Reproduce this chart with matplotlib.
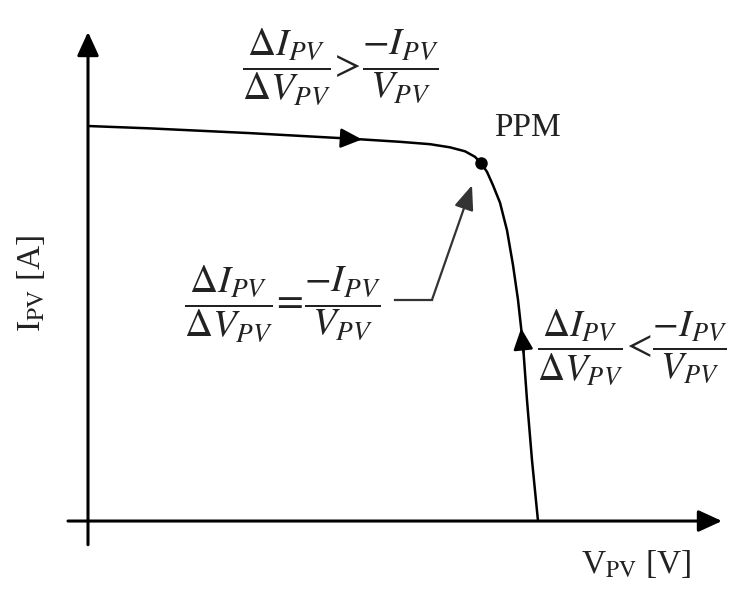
import numpy as np
import matplotlib.pyplot as plt

plt.rcParams['font.family'] = 'serif'
plt.rcParams['font.serif'] = ['Liberation Serif', 'DejaVu Serif']
plt.rcParams['mathtext.fontset'] = 'stix'

# PV module I-V characteristic (V in volts, I in amps)
v_pv = np.array([0.0, 3.1, 8.1, 13.1, 15.6, 17.1, 18.1, 18.85, 19.35, 19.65,
                 19.95, 20.25, 20.6, 20.95, 21.25, 21.5, 21.75, 21.95, 22.2, 22.5])
i_pv = np.array([5.0, 4.97, 4.91, 4.84, 4.80, 4.77, 4.73, 4.68, 4.61, 4.53,
                 4.42, 4.25, 4.03, 3.68, 3.24, 2.80, 2.23, 1.53, 0.77, 0.0])

# maximum power point
v_mpp = 19.65
i_mpp = 4.53

# where the direction arrows sit on the curve
arrow_right_v = 13.7
arrow_up_i = 2.44

fig = plt.figure(figsize=(7.33, 5.96), dpi=100)
ax = fig.add_axes([0, 0, 1, 1])
ax.set_xlim(-4.4, 32.25)
ax.set_ylim(-0.949, 6.595)
ax.axis('off')

# axes with arrow heads
axis_arrow = dict(arrowstyle='-|>,head_length=0.72,head_width=0.33', lw=2.2,
                  color='black', mutation_scale=20, shrinkA=0, shrinkB=0)
ax.annotate('', xy=(31.7, 0), xytext=(-1.0, 0), arrowprops=axis_arrow)
ax.annotate('', xy=(0, 6.19), xytext=(0, -0.30), arrowprops=axis_arrow)

# I-V curve
ax.plot(v_pv, i_pv, color='black', lw=1.8, solid_capstyle='butt')
ax.plot([v_mpp], [i_mpp], 'o', color='black', ms=8)

curve_arrow = dict(arrowstyle='-|>,head_length=0.65,head_width=0.3', lw=1.8,
                   color='black', mutation_scale=20, shrinkA=0, shrinkB=0)
# arrow moving right along the flat part
tip_i = np.interp(arrow_right_v, v_pv, i_pv)
tail_i = np.interp(arrow_right_v - 1.0, v_pv, i_pv)
ax.annotate('', xy=(arrow_right_v, tip_i), xytext=(arrow_right_v - 1.0, tail_i),
            arrowprops=curve_arrow)
# arrow moving up along the steep part
tip_v = np.interp(arrow_up_i, i_pv[::-1], v_pv[::-1])
tail_v = np.interp(arrow_up_i - 0.3, i_pv[::-1], v_pv[::-1])
ax.annotate('', xy=(tip_v, arrow_up_i), xytext=(tail_v, arrow_up_i - 0.3),
            arrowprops=curve_arrow)

# pointer from the equality condition to the MPP
ax.plot([15.35, 17.2], [2.80, 2.80], color='#333333', lw=1.6)
ax.annotate('', xy=(19.2, 4.25), xytext=(17.2, 2.80),
            arrowprops=dict(arrowstyle='-|>,head_length=0.75,head_width=0.3',
                            lw=1.6, color='#333333', mutation_scale=20,
                            shrinkA=0, shrinkB=0))

ax.text(v_mpp + 0.65, i_mpp + 0.45, 'PPM', fontsize=24, color='#222222',
        ha='left', va='center')

ax.text(0.464, 0.888,
        r'$\dfrac{\Delta I_{PV}}{\Delta V_{PV}}\!>\!\dfrac{-I_{PV}}{V_{PV}}$',
        transform=ax.transAxes, fontsize=28, color='#222222',
        ha='center', va='center')
ax.text(0.386, 0.49,
        r'$\dfrac{\Delta I_{PV}}{\Delta V_{PV}}\!=\!\dfrac{-I_{PV}}{V_{PV}}$',
        transform=ax.transAxes, fontsize=28, color='#222222',
        ha='center', va='center')
ax.text(0.862, 0.418,
        r'$\dfrac{\Delta I_{PV}}{\Delta V_{PV}}\!<\!\dfrac{-I_{PV}}{V_{PV}}$',
        transform=ax.transAxes, fontsize=27, color='#222222',
        ha='center', va='center')

# axis labels
ax.text(0.868, 0.053, r'V$_{\mathrm{PV}}$ [V]', transform=ax.transAxes,
        fontsize=24, color='#222222', ha='center', va='center')
ax.text(0.042, 0.525, r'I$_{\mathrm{PV}}$ [A]', transform=ax.transAxes,
        fontsize=24, color='#222222', ha='center', va='center', rotation=90)

plt.savefig('out.png', dpi=100)
